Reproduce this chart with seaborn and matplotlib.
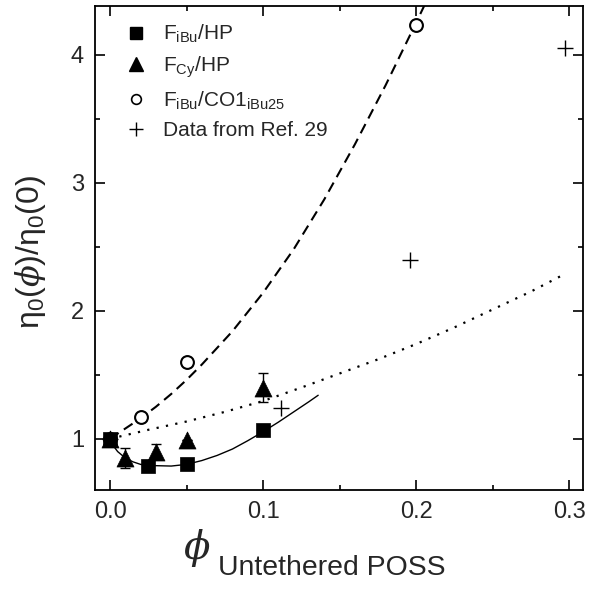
import matplotlib
matplotlib.use("Agg")
import matplotlib.pyplot as plt
import seaborn as sns
from matplotlib.lines import Line2D
from matplotlib.ticker import MultipleLocator, FormatStrFormatter

# ---- data ----
sq_x = [0.0, 0.025, 0.05, 0.10]
sq_y = [1.00, 0.79, 0.80, 1.07]

tri_x = [0.0, 0.01, 0.03, 0.05, 0.10]
tri_y = [1.00, 0.85, 0.90, 0.99, 1.40]
tri_err = [0.0, 0.08, 0.06, 0.0, 0.11]

circ_x = [0.0, 0.02, 0.05, 0.20]
circ_y = [1.00, 1.17, 1.60, 4.23]

ref_x = [0.0, 0.112, 0.196, 0.297]
ref_y = [1.00, 1.24, 2.40, 4.05]

# fitted curves as drawn in the reference
solid_x = [0.0, 0.005, 0.01, 0.015, 0.02, 0.025, 0.03, 0.04, 0.05, 0.06, 0.07,
           0.08, 0.09, 0.10, 0.11, 0.12, 0.13, 0.136]
solid_y = [0.98, 0.90, 0.85, 0.82, 0.80, 0.793, 0.79, 0.787, 0.80, 0.83, 0.87,
           0.92, 0.985, 1.055, 1.13, 1.21, 1.29, 1.34]

dash_x = [0.0, 0.01, 0.02, 0.03, 0.04, 0.05, 0.06, 0.08, 0.10, 0.12, 0.14,
          0.16, 0.18, 0.20, 0.206]
dash_y = [1.00, 1.08, 1.16, 1.25, 1.35, 1.46, 1.58, 1.84, 2.14, 2.48, 2.87,
          3.30, 3.76, 4.25, 4.40]

dot_x = [0.0, 0.025, 0.05, 0.075, 0.10, 0.125, 0.15, 0.175, 0.20, 0.225,
         0.25, 0.275, 0.296]
dot_y = [1.00, 1.07, 1.135, 1.21, 1.295, 1.40, 1.51, 1.62, 1.74, 1.87,
         2.01, 2.15, 2.28]

legend_labels = [r"F$_{\mathregular{iBu}}$/HP",
                 r"F$_{\mathregular{Cy}}$/HP",
                 r"F$_{\mathregular{iBu}}$/CO1$_{\mathregular{iBu25}}$",
                 "Data from Ref. 29"]

sns.set_style("ticks")
plt.rcParams["font.family"] = ["Liberation Sans", "DejaVu Sans"]
plt.rcParams["mathtext.fontset"] = "custom"
plt.rcParams["mathtext.rm"] = "Liberation Sans"
plt.rcParams["mathtext.it"] = "DejaVu Serif:italic"
plt.rcParams["mathtext.default"] = "regular"

fig = plt.figure(figsize=(5.9, 5.93), dpi=100)
ax = fig.add_axes([95 / 590, 1 - 490 / 593, 488 / 590, 484 / 593])

# curves
sns.lineplot(x=solid_x, y=solid_y, ax=ax, color="black", lw=1.0, sort=False, zorder=2)
sns.lineplot(x=dash_x, y=dash_y, ax=ax, color="black", lw=1.5, sort=False, zorder=2)
ax.lines[-1].set_linestyle((0, (5, 3)))
sns.lineplot(x=dot_x, y=dot_y, ax=ax, color="black", lw=1.6, sort=False, zorder=2)
ax.lines[-1].set_linestyle((0, (1, 3.3)))

# error bars
ax.errorbar(tri_x, tri_y, yerr=tri_err, fmt="none", ecolor="black",
            elinewidth=1.0, capsize=3.5, capthick=1.0, zorder=3)

# markers
sns.scatterplot(x=ref_x, y=ref_y, ax=ax, marker="+", s=130, color="black",
                linewidth=1.0, zorder=3)
sns.scatterplot(x=circ_x, y=circ_y, ax=ax, marker="o", s=85, facecolor="white",
                edgecolor="black", linewidth=1.5, zorder=4)
sns.scatterplot(x=tri_x, y=tri_y, ax=ax, marker="^", s=150, color="black",
                edgecolor="black", linewidth=0.5, zorder=5)
sns.scatterplot(x=sq_x, y=sq_y, ax=ax, marker="s", s=100, color="black",
                edgecolor="black", linewidth=0.5, zorder=6)

ax.set_xlim(-0.0098, 0.309)
ax.set_ylim(0.60, 4.38)
ax.xaxis.set_major_locator(MultipleLocator(0.1))
ax.xaxis.set_minor_locator(MultipleLocator(0.05))
ax.yaxis.set_major_locator(MultipleLocator(1))
ax.yaxis.set_minor_locator(MultipleLocator(0.5))
ax.xaxis.set_major_formatter(FormatStrFormatter("%.1f"))
ax.yaxis.set_major_formatter(FormatStrFormatter("%d"))
ax.tick_params(which="both", direction="in", top=True, right=True, width=1.2,
               color="black")
ax.tick_params(which="major", length=7, labelsize=17, pad=8)
ax.tick_params(which="minor", length=3.5)
for sp in ax.spines.values():
    sp.set_visible(True)
    sp.set_linewidth(1.3)
    sp.set_color("black")
ax.set_xlabel("")
ax.set_ylabel("")

# axis labels
fig.text(31 / 590, 1 - 252 / 593, r"$\eta_0$($\mathit{\phi}$)/$\eta_0$(0)",
         rotation=90, ha="center", va="center", fontsize=23)
fig.text(197 / 590, 1 - 548 / 593, "\u03d5", fontsize=28, fontstyle="italic",
         family=["DejaVu Serif"], ha="center", va="center")
fig.text(218 / 590, 1 - 575 / 593, "Untethered POSS", fontsize=20.4, ha="left",
         va="baseline")

# legend
handles = [
    Line2D([], [], ls="none", marker="s", ms=8, color="black"),
    Line2D([], [], ls="none", marker="^", ms=10, color="black"),
    Line2D([], [], ls="none", marker="o", ms=7, mfc="white", mec="black", mew=1.2),
    Line2D([], [], ls="none", marker="+", ms=10, color="black", mew=1.0),
]
ax.legend(handles, legend_labels, loc="upper left", bbox_to_anchor=(0.041, 0.991),
          frameon=False, fontsize=15, handlelength=0.8, handletextpad=0.9,
          labelspacing=0.45, borderaxespad=0.2)

fig.savefig("out.png", dpi=100)
